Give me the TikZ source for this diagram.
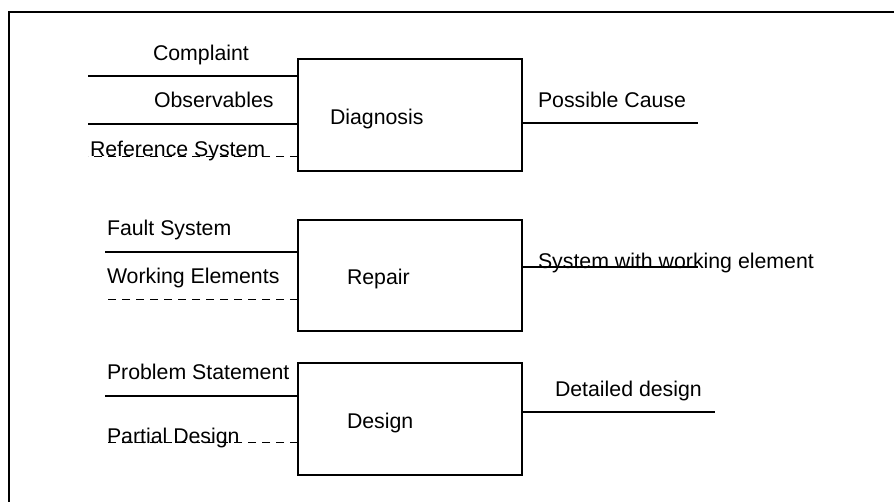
\documentclass[tikz,border=0pt]{standalone}
\usepackage{fontspec}
\setmainfont{Liberation Sans}
\begin{document}
\begin{tikzpicture}[x=1pt,y=-1pt,
  every node/.style={font=\fontsize{21.3}{25}\selectfont, inner sep=0pt, outer sep=0pt},
  taskbox/.style={draw, line width=2.4pt, rectangle, anchor=north west},
  solidline/.style={line width=2.2pt},
  dashline/.style={line width=1pt, dash pattern=on 8pt off 6pt},
  lbl/.style={anchor=base west}]
\useasboundingbox (0,0) rectangle (894,501);
% outer frame (top and left edges only within view)
\coordinate (frameTR) at (900,12);
\coordinate (frameTL) at (9,12);
\coordinate (frameBL) at (9,510);
\draw[line width=2.2pt] (frameTR) -- (frameTL) -- (frameBL);

% task boxes
\node[taskbox, minimum width=224pt, minimum height=112pt] (diag) at (298,59) {};
\node[taskbox, minimum width=224pt, minimum height=111pt] (rep) at (298,220) {};
\node[taskbox, minimum width=224pt, minimum height=112pt] (des) at (298,363) {};

\node[lbl] (tdiag) at (330,124) {Diagnosis};
\node[lbl] (trep) at (347,284) {Repair};
\node[lbl] (tdes) at (347,428) {Design};

% Diagnosis inputs and output
\coordinate (inComplaint) at (88,76);
\coordinate (inObs) at (88,124);
\coordinate (inRef) at (88,156);
\coordinate (outCause) at (698,123);
\draw[solidline] (inComplaint) -- (inComplaint -| diag.west);
\draw[solidline] (inObs) -- (inObs -| diag.west);
\draw[dashline] (diag.west |- inRef) -- (inRef);
\draw[solidline] (outCause -| diag.east) -- (outCause);
\node[lbl] (tComplaint) at (153,60) {Complaint};
\node[lbl] (tObs) at (154,107) {Observables};
\node[lbl] (tRef) at (90,156) {Reference System};
\node[lbl] (tCause) at (538,107) {Possible Cause};

% Repair inputs and output
\coordinate (inFault) at (105,252);
\coordinate (inWork) at (105,299);
\coordinate (outWork) at (698,267);
\draw[solidline] (inFault) -- (inFault -| rep.west);
\draw[dashline] (rep.west |- inWork) -- (inWork);
\draw[solidline] (outWork -| rep.east) -- (outWork);
\node[lbl] (tFault) at (107,235) {Fault System};
\node[lbl] (tWork) at (107,283) {Working Elements};
\node[lbl] (tOutWork) at (538,268) {System with working element};

% Design inputs and output
\coordinate (inProb) at (105,396);
\coordinate (inPart) at (105,442);
\coordinate (outDet) at (715,412);
\draw[solidline] (inProb) -- (inProb -| des.west);
\draw[dashline] (des.west |- inPart) -- (inPart);
\draw[solidline] (outDet -| des.east) -- (outDet);
\node[lbl] (tProb) at (107,379) {Problem Statement};
\node[lbl] (tPart) at (107,443) {Partial Design};
\node[lbl] (tDet) at (555,396) {Detailed design};
\end{tikzpicture}
\end{document}
